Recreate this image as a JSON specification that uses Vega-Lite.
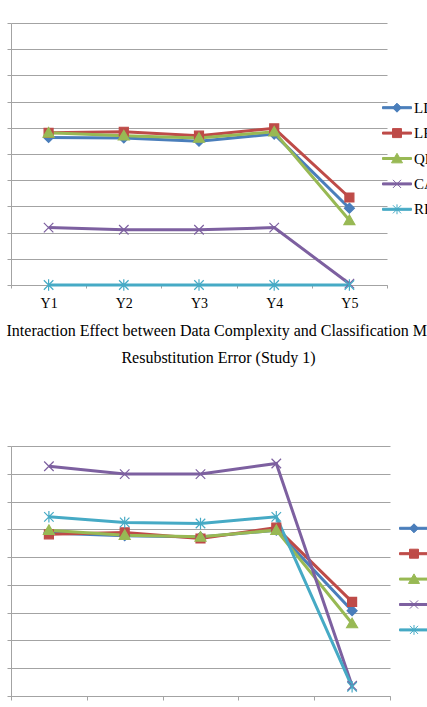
{
  "$schema": "https://vega.github.io/schema/vega-lite/v6.json",
  "background": "white",
  "padding": {"left": 6, "top": 22, "right": 0, "bottom": 0},
  "bounds": "flush",
  "spacing": 161,
  "config": {
    "font": "Liberation Serif",
    "view": {"stroke": null},
    "axis": {
      "gridColor": "#a3a3a3",
      "gridWidth": 1,
      "domainColor": "#a3a3a3",
      "domainWidth": 1,
      "tickColor": "#a3a3a3",
      "tickWidth": 1,
      "labelFont": "Liberation Serif",
      "labelColor": "#000000",
      "title": null
    },
    "legend": {
      "padding": 0,
      "labelFont": "Liberation Serif",
      "labelFontSize": 15,
      "labelColor": "#000000",
      "rowPadding": 2.4,
      "symbolSize": 841,
      "symbolStrokeWidth": 1,
      "labelOffset": 2
    },
    "title": {
      "font": "Liberation Serif",
      "fontSize": 16,
      "fontWeight": "normal",
      "color": "#000000"
    }
  },
  "datasets": {
    "study1": [
      {"level": "Y1", "method": "LDA", "error": 0.2815},
      {"level": "Y2", "method": "LDA", "error": 0.2805},
      {"level": "Y3", "method": "LDA", "error": 0.2745},
      {"level": "Y4", "method": "LDA", "error": 0.288},
      {"level": "Y5", "method": "LDA", "error": 0.1465},
      {"level": "Y1", "method": "LR", "error": 0.2905},
      {"level": "Y2", "method": "LR", "error": 0.2925},
      {"level": "Y3", "method": "LR", "error": 0.285},
      {"level": "Y4", "method": "LR", "error": 0.299},
      {"level": "Y5", "method": "LR", "error": 0.167},
      {"level": "Y1", "method": "QDA", "error": 0.2905},
      {"level": "Y2", "method": "QDA", "error": 0.285},
      {"level": "Y3", "method": "QDA", "error": 0.2805},
      {"level": "Y4", "method": "QDA", "error": 0.2925},
      {"level": "Y5", "method": "QDA", "error": 0.1235},
      {"level": "Y1", "method": "CART", "error": 0.1095},
      {"level": "Y2", "method": "CART", "error": 0.1055},
      {"level": "Y3", "method": "CART", "error": 0.1055},
      {"level": "Y4", "method": "CART", "error": 0.1095},
      {"level": "Y5", "method": "CART", "error": 0.0025},
      {"level": "Y1", "method": "RF", "error": 0},
      {"level": "Y2", "method": "RF", "error": 0},
      {"level": "Y3", "method": "RF", "error": 0},
      {"level": "Y4", "method": "RF", "error": 0},
      {"level": "Y5", "method": "RF", "error": 0}
    ],
    "study1b": [
      {"level": "Y1", "method": "LDA", "error": 0.2935},
      {"level": "Y2", "method": "LDA", "error": 0.2885},
      {"level": "Y3", "method": "LDA", "error": 0.286},
      {"level": "Y4", "method": "LDA", "error": 0.2985},
      {"level": "Y5", "method": "LDA", "error": 0.1535},
      {"level": "Y1", "method": "LR", "error": 0.291},
      {"level": "Y2", "method": "LR", "error": 0.2945},
      {"level": "Y3", "method": "LR", "error": 0.2835},
      {"level": "Y4", "method": "LR", "error": 0.303},
      {"level": "Y5", "method": "LR", "error": 0.1695},
      {"level": "Y1", "method": "QDA", "error": 0.2985},
      {"level": "Y2", "method": "QDA", "error": 0.2895},
      {"level": "Y3", "method": "QDA", "error": 0.2865},
      {"level": "Y4", "method": "QDA", "error": 0.2985},
      {"level": "Y5", "method": "QDA", "error": 0.1305},
      {"level": "Y1", "method": "CART", "error": 0.4135},
      {"level": "Y2", "method": "CART", "error": 0.3995},
      {"level": "Y3", "method": "CART", "error": 0.3995},
      {"level": "Y4", "method": "CART", "error": 0.4185},
      {"level": "Y5", "method": "CART", "error": 0.0185},
      {"level": "Y1", "method": "RF", "error": 0.3225},
      {"level": "Y2", "method": "RF", "error": 0.3125},
      {"level": "Y3", "method": "RF", "error": 0.3105},
      {"level": "Y4", "method": "RF", "error": 0.3225},
      {"level": "Y5", "method": "RF", "error": 0.0165}
    ]
  },
  "resolve": {
    "legend": {"color": "independent", "shape": "independent", "stroke": "independent"}
  },
  "vconcat": [
    {
      "width": 376,
      "height": 262,
      "data": {"name": "study1"},
      "title": {
        "text": "Interaction Effect between Data Complexity and Classification Method on",
        "orient": "bottom",
        "anchor": "start",
        "frame": "bounds",
        "offset": 13
      },
      "encoding": {
        "x": {
          "field": "level",
          "type": "nominal",
          "scale": {"type": "band", "paddingInner": 0, "paddingOuter": 0},
          "axis": {"labelAngle": 0, "tickBand": "extent", "tickSize": 3, "labelFontSize": 14, "labelPadding": 8, "grid": false}
        },
        "y": {
          "field": "error",
          "type": "quantitative",
          "scale": {"domain": [0, 0.5], "nice": false, "zero": true},
          "axis": {"values": [0, 0.05, 0.1, 0.15, 0.2, 0.25, 0.3, 0.35, 0.4, 0.45, 0.5], "labels": false, "tickSize": 4, "grid": true}
        }
      },
      "layer": [
        {
          "mark": {"type": "line", "strokeWidth": 3},
          "encoding": {
            "color": {
              "field": "method",
              "type": "nominal",
              "sort": ["LDA", "LR", "QDA", "CART", "RF"],
              "scale": {"domain": ["LDA", "LR", "QDA", "CART", "RF"], "range": ["#4a7ebb", "#be4b48", "#98b954", "#7d60a0", "#46aac5"]},
              "legend": {
                "title": null,
                "orient": "none",
                "legendX": 371,
                "legendY": 69.7,
                "encode": {
                  "symbols": {
                    "update": {
                      "shape": {"signal": "datum.value === 'LDA' ? 'M-1,-0.07L1,-0.07L1,0.07L-1,0.07ZM0,-0.31L0.31,0L0,0.31L-0.31,0Z' : datum.value === 'LR' ? 'M-1,-0.07L1,-0.07L1,0.07L-1,0.07ZM-0.31,-0.31L0.31,-0.31L0.31,0.31L-0.31,0.31Z' : datum.value === 'QDA' ? 'M-1,-0.07L1,-0.07L1,0.07L-1,0.07ZM0,-0.36L0.38,0.3L-0.38,0.3Z' : datum.value === 'CART' ? 'M-1,-0.07L1,-0.07L1,0.07L-1,0.07ZM-0.28,-0.28L0.28,0.28M-0.28,0.28L0.28,-0.28' : 'M-1,-0.07L1,-0.07L1,0.07L-1,0.07ZM-0.28,-0.28L0.28,0.28M-0.28,0.28L0.28,-0.28M0,-0.34L0,0.34'"},
                      "fill": {"signal": "datum.value === 'LDA' ? '#4a7ebb' : datum.value === 'LR' ? '#be4b48' : datum.value === 'QDA' ? '#98b954' : datum.value === 'CART' ? '#7d60a0' : '#46aac5'"},
                      "stroke": {"signal": "datum.value === 'LDA' ? '#4a7ebb' : datum.value === 'LR' ? '#be4b48' : datum.value === 'QDA' ? '#98b954' : datum.value === 'CART' ? '#7d60a0' : '#46aac5'"},
                      "strokeWidth": {"value": 1},
                      "size": {"value": 841},
                      "opacity": {"value": 1},
                      "fillOpacity": {"value": 1}
                    }
                  }
                }
              }
            }
          }
        },
        {
          "mark": {"type": "point", "filled": true, "size": 100, "strokeWidth": 1.2, "opacity": 1},
          "encoding": {
            "color": {
              "field": "method",
              "type": "nominal",
              "scale": {"domain": ["LDA", "LR", "QDA", "CART", "RF"], "range": ["#4a7ebb", "#be4b48", "#98b954", "#7d60a0", "#46aac5"]},
              "legend": null
            },
            "stroke": {
              "field": "method",
              "type": "nominal",
              "scale": {"domain": ["RF", "CART", "QDA", "LR", "LDA"], "range": ["#46aac5", "#7d60a0", "#98b954", "#be4b48", "#4a7ebb"]},
              "legend": null
            },
            "shape": {
              "field": "method",
              "type": "nominal",
              "scale": {
                "domain": ["RF", "CART", "QDA", "LR", "LDA"],
                "range": [
                  "M-0.95,-0.95L0.95,0.95M-0.95,0.95L0.95,-0.95M0,-1.15L0,1.15",
                  "M-0.95,-0.95L0.95,0.95M-0.95,0.95L0.95,-0.95",
                  "M0,-1.05L1.1,0.85L-1.1,0.85Z",
                  "M-0.9,-0.9L0.9,-0.9L0.9,0.9L-0.9,0.9Z",
                  "M0,-1L1,0L0,1L-1,0Z"
                ]
              },
              "legend": null
            }
          }
        }
      ]
    },
    {
      "width": 379,
      "height": 250,
      "data": {"name": "study1b"},
      "title": {
        "text": "Resubstitution Error (Study 1)",
        "orient": "top",
        "anchor": "middle",
        "frame": "group",
        "dx": 18,
        "offset": 80
      },
      "encoding": {
        "x": {
          "field": "level",
          "type": "nominal",
          "scale": {"type": "band", "paddingInner": 0, "paddingOuter": 0},
          "axis": {"labelAngle": 0, "tickBand": "extent", "tickSize": 4, "labelFontSize": 14, "labelPadding": 8, "grid": false}
        },
        "y": {
          "field": "error",
          "type": "quantitative",
          "scale": {"domain": [0, 0.45], "nice": false, "zero": true},
          "axis": {"values": [0, 0.05, 0.1, 0.15, 0.2, 0.25, 0.3, 0.35, 0.4, 0.45], "labels": false, "tickSize": 4, "grid": true}
        }
      },
      "layer": [
        {
          "mark": {"type": "line", "strokeWidth": 3},
          "encoding": {
            "color": {
              "field": "method",
              "type": "nominal",
              "sort": ["LDA", "LR", "QDA", "CART", "RF"],
              "scale": {"domain": ["LDA", "LR", "QDA", "CART", "RF"], "range": ["#4a7ebb", "#be4b48", "#98b954", "#7d60a0", "#46aac5"]},
              "legend": {
                "title": null,
                "orient": "none",
                "legendX": 388,
                "legendY": 67.3,
                "encode": {
                  "symbols": {
                    "update": {
                      "shape": {"signal": "datum.value === 'LDA' ? 'M-1,-0.07L1,-0.07L1,0.07L-1,0.07ZM0,-0.31L0.31,0L0,0.31L-0.31,0Z' : datum.value === 'LR' ? 'M-1,-0.07L1,-0.07L1,0.07L-1,0.07ZM-0.31,-0.31L0.31,-0.31L0.31,0.31L-0.31,0.31Z' : datum.value === 'QDA' ? 'M-1,-0.07L1,-0.07L1,0.07L-1,0.07ZM0,-0.36L0.38,0.3L-0.38,0.3Z' : datum.value === 'CART' ? 'M-1,-0.07L1,-0.07L1,0.07L-1,0.07ZM-0.28,-0.28L0.28,0.28M-0.28,0.28L0.28,-0.28' : 'M-1,-0.07L1,-0.07L1,0.07L-1,0.07ZM-0.28,-0.28L0.28,0.28M-0.28,0.28L0.28,-0.28M0,-0.34L0,0.34'"},
                      "fill": {"signal": "datum.value === 'LDA' ? '#4a7ebb' : datum.value === 'LR' ? '#be4b48' : datum.value === 'QDA' ? '#98b954' : datum.value === 'CART' ? '#7d60a0' : '#46aac5'"},
                      "stroke": {"signal": "datum.value === 'LDA' ? '#4a7ebb' : datum.value === 'LR' ? '#be4b48' : datum.value === 'QDA' ? '#98b954' : datum.value === 'CART' ? '#7d60a0' : '#46aac5'"},
                      "strokeWidth": {"value": 1},
                      "size": {"value": 841},
                      "opacity": {"value": 1},
                      "fillOpacity": {"value": 1}
                    }
                  }
                }
              }
            }
          }
        },
        {
          "mark": {"type": "point", "filled": true, "size": 100, "strokeWidth": 1.2, "opacity": 1},
          "encoding": {
            "color": {
              "field": "method",
              "type": "nominal",
              "scale": {"domain": ["LDA", "LR", "QDA", "CART", "RF"], "range": ["#4a7ebb", "#be4b48", "#98b954", "#7d60a0", "#46aac5"]},
              "legend": null
            },
            "stroke": {
              "field": "method",
              "type": "nominal",
              "scale": {"domain": ["RF", "CART", "QDA", "LR", "LDA"], "range": ["#46aac5", "#7d60a0", "#98b954", "#be4b48", "#4a7ebb"]},
              "legend": null
            },
            "shape": {
              "field": "method",
              "type": "nominal",
              "scale": {
                "domain": ["RF", "CART", "QDA", "LR", "LDA"],
                "range": [
                  "M-0.95,-0.95L0.95,0.95M-0.95,0.95L0.95,-0.95M0,-1.15L0,1.15",
                  "M-0.95,-0.95L0.95,0.95M-0.95,0.95L0.95,-0.95",
                  "M0,-1.05L1.1,0.85L-1.1,0.85Z",
                  "M-0.9,-0.9L0.9,-0.9L0.9,0.9L-0.9,0.9Z",
                  "M0,-1L1,0L0,1L-1,0Z"
                ]
              },
              "legend": null
            }
          }
        }
      ]
    }
  ]
}
